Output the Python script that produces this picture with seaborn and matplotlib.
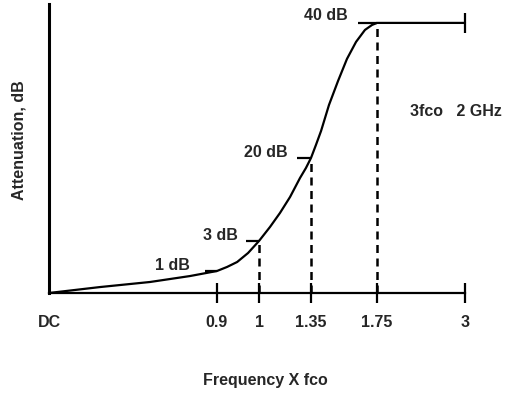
import numpy as np
import pandas as pd
import seaborn as sns
import matplotlib
matplotlib.use("Agg")
import matplotlib.pyplot as plt
from matplotlib.path import Path

# Attenuation curve of the low-pass filter (frequency in units of fco)
freq = [0.0, 0.273, 0.541, 0.755, 0.9, 0.924, 0.948, 0.974, 1.0, 1.074, 1.141,
        1.209, 1.276, 1.316, 1.35, 1.380, 1.411, 1.459, 1.514, 1.568, 1.623,
        1.677, 1.720, 1.75, 3.0]
atten_db = [0.0, 0.27, 0.5, 0.77, 1.0, 1.27, 1.6, 2.2, 3.0, 5.87, 8.73,
            12.01, 15.9, 17.95, 20.0, 21.93, 24.0, 27.85, 31.41, 34.67, 37.19,
            38.96, 39.7, 40.0, 40.0]

# Labelled attenuation points
mark_freq = [0.9, 1.0, 1.35, 1.75]
mark_db = [1, 3, 20, 40]
mark_text = ["1 dB", "3 dB", "20 dB", "40 dB"]

# Frequency axis ticks
tick_freq = [0.0, 0.9, 1.0, 1.35, 1.75, 3.0]
tick_text = ["DC", "0.9", "1", "1.35", "1.75", "3"]

# Frequencies that get a dashed drop line
drop_freq = [1.0, 1.35, 1.75]
drop_db = [3, 20, 40]

# Schematic (not-to-scale) axis spacing
x_knots = [-1.0, 0.0, 0.9, 1.0, 1.35, 1.75, 3.0, 4.0]
x_pos = [-186.7, 0.0, 168.0, 210.0, 262.0, 328.0, 416.0, 486.4]
y_knots = [-10.0, 0.0, 1.0, 3.0, 20.0, 40.0, 60.0]
y_pos = [-220.0, 0.0, 22.0, 52.0, 135.0, 270.0, 405.0]


def fwd_x(v):
    return np.interp(v, x_knots, x_pos)


def inv_x(v):
    return np.interp(v, x_pos, x_knots)


def fwd_y(v):
    return np.interp(v, y_knots, y_pos)


def inv_y(v):
    return np.interp(v, y_pos, y_knots)


sns.set_theme(style="white")
plt.rcParams["font.family"] = ["Liberation Sans", "DejaVu Sans"]
plt.rcParams["font.weight"] = "bold"

W, H = 510, 393
fig = plt.figure(figsize=(W / 100, H / 100), dpi=100)
ax = fig.add_axes([49 / W, (H - 293) / H, 416 / W, (293 - 4) / H])
ax.set_xscale("function", functions=(fwd_x, inv_x))
ax.set_yscale("function", functions=(fwd_y, inv_y))
ax.set_xlim(0, 3)
ax.set_ylim(0, 42.8)

df = pd.DataFrame({"freq": freq, "atten": atten_db})
sns.lineplot(data=df, x="freq", y="atten", sort=False, color="black",
             linewidth=1.6, ax=ax, clip_on=False)

# Dashed drop lines from the labelled points to the frequency axis
for f, d in zip(drop_freq, drop_db):
    ax.plot([f, f], [0, d], color="black", linewidth=1.8,
            linestyle=(0, (3.2, 2.2)), clip_on=False)

# Short leader dash to the left of each labelled point, plus its text
dash_left = Path([[-1.0, 0.0], [0.0, 0.0]])
dash_len = [9.0, 9.5, 10.0, 14.0]
offsets = [(-19.5, 3.6), (-15.0, 4.3), (-16.5, 3.6), (-21.0, 5.0)]
for f, d, t, L, off in zip(mark_freq, mark_db, mark_text, dash_len, offsets):
    ax.plot([f], [d], marker=dash_left, markersize=2 * L, markeredgewidth=1.6,
            color="black", linestyle="none", clip_on=False)
    ax.annotate(t, xy=(f, d), xytext=off, textcoords="offset points",
                ha="right", va="center", fontsize=11.5, fontweight="bold")

# End stop at 3 fco on the 40 dB plateau
ax.plot([3.0], [40.0], marker="|", markersize=14, markeredgewidth=1.6,
        color="black", clip_on=False)

# Axes styling
for side in ("top", "right"):
    ax.spines[side].set_visible(False)
ax.spines["left"].set_linewidth(2.2)
ax.spines["bottom"].set_linewidth(1.6)
ax.spines["left"].set_color("black")
ax.spines["bottom"].set_color("black")

ax.set_xticks(tick_freq)
ax.set_xticklabels(tick_text, fontsize=11.5, fontweight="bold")
ax.xaxis.set_minor_locator(matplotlib.ticker.NullLocator())
ax.yaxis.set_minor_locator(matplotlib.ticker.NullLocator())
ax.set_yticks([])
ax.tick_params(axis="x", direction="inout", length=14, width=1.6,
               color="black", pad=8.5, bottom=True)
ax.xaxis.get_major_ticks()[0].tick1line.set_visible(False)
ax.set_xlabel("")
ax.set_ylabel("")

fig.text(19 / W, 1 - 140 / H, "Attenuation, dB", rotation=90,
         ha="center", va="center", fontsize=11.5, fontweight="bold")
fig.text(265 / W, 1 - 380 / H, "Frequency X fco",
         ha="center", va="center", fontsize=11.5, fontweight="bold")
fig.text(410 / W, 1 - 112 / H, "3fco   2 GHz",
         ha="left", va="center", fontsize=11.5, fontweight="bold")

fig.savefig("out.png", dpi=100, facecolor="white")
